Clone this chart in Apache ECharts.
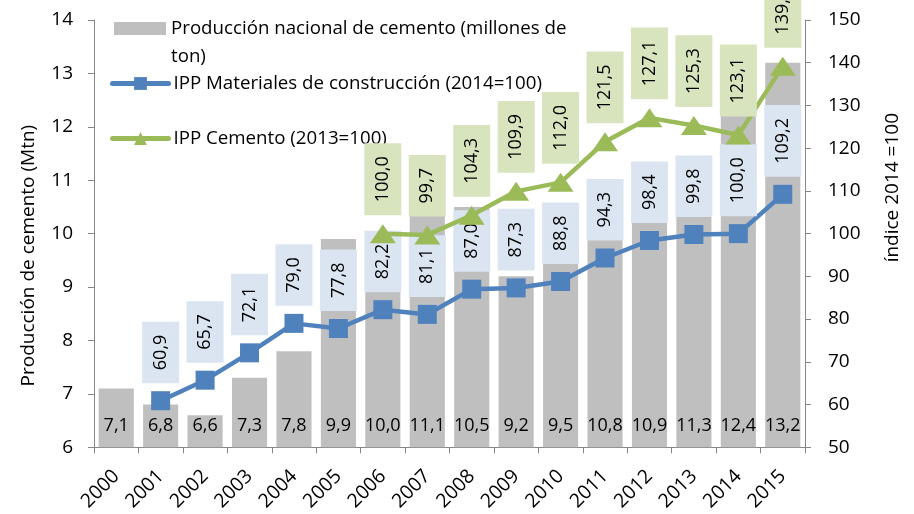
<!DOCTYPE html>
<html>
<head>
<meta charset="utf-8">
<script src="https://cdn.jsdelivr.net/npm/echarts@6/dist/echarts.min.js"></script>
<style>
html,body{margin:0;padding:0;background:#fff;}
#chart{width:914px;height:514px;}
</style>
</head>
<body>
<div id="chart"></div>
<script>
const years = ['2000','2001','2002','2003','2004','2005','2006','2007','2008','2009','2010','2011','2012','2013','2014','2015'];
const produccion = [7.1, 6.8, 6.6, 7.3, 7.8, 9.9, 10.0, 11.1, 10.5, 9.2, 9.5, 10.8, 10.9, 11.3, 12.4, 13.2];
const ippMateriales = [null, 60.9, 65.7, 72.1, 79.0, 77.8, 82.2, 81.1, 87.0, 87.3, 88.8, 94.3, 98.4, 99.8, 100.0, 109.2];
const ippCemento = [null, null, null, null, null, null, 100.0, 99.7, 104.3, 109.9, 112.0, 121.5, 127.1, 125.3, 123.1, 139.2];

const nameBar = 'Producción nacional de cemento (millones de ton)';
const nameBlue = 'IPP Materiales de construcción (2014=100)';
const nameGreen = 'IPP Cemento (2013=100)';

const FONT = '"Open Sans", "Liberation Sans", sans-serif';
const LEG_FS = 18.7;
const fmt = v => (v == null ? '' : Number(v).toFixed(1).replace('.', ','));

const chart = echarts.init(document.getElementById('chart'), null, {renderer: 'canvas'});

const lineLabel = (bg, dist) => ({
  show: true,
  position: 'top',
  rotate: 90,
  align: 'left',
  verticalAlign: 'middle',
  distance: dist,
  backgroundColor: bg,
  padding: [9, 13, 9, 13],
  lineHeight: 19,
  fontSize: 18,
  fontFamily: FONT,
  color: '#000',
  formatter: p => fmt(p.value)
});

chart.setOption({
  animation: false,
  backgroundColor: '#fff',
  textStyle: {fontFamily: FONT},
  grid: {left: 94, right: 109, top: 20, bottom: 65, containLabel: false},
  legend: [
    {
      data: [nameBar], left: 114, top: 19, padding: 0, orient: 'vertical',
      itemWidth: 52, itemHeight: 13, itemGap: 5, icon: 'rect',
      formatter: () => 'Producción nacional de cemento (millones de',
      textStyle: {fontSize: LEG_FS, color: '#000', fontFamily: FONT}
    },
    {
      data: [nameBlue], left: 110, top: 74, padding: 0,
      itemWidth: 56, itemHeight: 16, itemGap: 5,
      lineStyle: {width: 5, cap: 'round'},
      textStyle: {fontSize: LEG_FS, color: '#000', fontFamily: FONT}
    },
    {
      data: [nameGreen], left: 110, top: 129, padding: 0,
      itemWidth: 56, itemHeight: 16, itemGap: 5,
      lineStyle: {width: 5, cap: 'round'},
      textStyle: {fontSize: LEG_FS, color: '#000', fontFamily: FONT}
    }
  ],
  graphic: [{
    type: 'text', left: 171, top: 47, z: 100,
    style: {text: 'ton)', fontSize: LEG_FS, fontFamily: FONT, fill: '#000'}
  }],
  xAxis: {
    type: 'category',
    data: years,
    boundaryGap: true,
    axisLine: {show: true, lineStyle: {color: '#868686', width: 1}},
    axisTick: {show: true, alignWithLabel: false, length: 6, lineStyle: {color: '#868686'}},
    axisLabel: {rotate: 45, fontSize: 19.5, color: '#000', margin: 26, interval: 0, fontFamily: FONT},
    splitLine: {show: false}
  },
  yAxis: [
    {
      type: 'value', min: 6, max: 14, interval: 1,
      name: 'Producción de cemento (Mtn)', nameLocation: 'middle', nameGap: 56,
      nameTextStyle: {fontSize: 19, color: '#000', fontFamily: FONT, padding: [0, 44, 0, 0]},
      axisLine: {show: true, lineStyle: {color: '#868686'}},
      axisTick: {show: true, length: 6, lineStyle: {color: '#868686'}},
      axisLabel: {fontSize: 19, color: '#000', margin: 21, fontFamily: FONT},
      splitLine: {show: false}
    },
    {
      type: 'value', min: 50, max: 150, interval: 10, position: 'right',
      name: 'índice 2014 =100', nameLocation: 'middle', nameGap: 78,
      nameTextStyle: {fontSize: 19, color: '#000', fontFamily: FONT, padding: [0, 0, 0, 92]},
      axisLine: {show: true, lineStyle: {color: '#868686'}},
      axisTick: {show: true, length: 6, lineStyle: {color: '#868686'}},
      axisLabel: {fontSize: 19, color: '#000', margin: 23, fontFamily: FONT},
      splitLine: {show: false}
    }
  ],
  series: [
    {
      name: nameBar, type: 'bar', yAxisIndex: 0, data: produccion,
      barCategoryGap: '21%',
      itemStyle: {color: '#bfbfbf'},
      label: {
        show: true, position: 'insideBottom', distance: 12,
        fontSize: 18, color: '#000', fontFamily: FONT,
        formatter: p => fmt(p.value)
      },
      z: 1
    },
    {
      name: nameBlue, type: 'line', yAxisIndex: 1, data: ippMateriales,
      color: '#4f81bd',
      lineStyle: {color: '#4f81bd', width: 4.5},
      itemStyle: {color: '#4f81bd'},
      symbol: 'rect', symbolSize: 19, showAllSymbol: true,
      label: lineLabel('#dbe5f1', 8),
      z: 3
    },
    {
      name: nameGreen, type: 'line', yAxisIndex: 1, data: ippCemento,
      color: '#9bbb59',
      lineStyle: {color: '#9bbb59', width: 4.5},
      itemStyle: {color: '#9bbb59'},
      symbol: 'triangle', symbolSize: [26, 19], showAllSymbol: true,
      label: lineLabel('#d7e4bd', 9),
      z: 4
    }
  ]
});
</script>
</body>
</html>
